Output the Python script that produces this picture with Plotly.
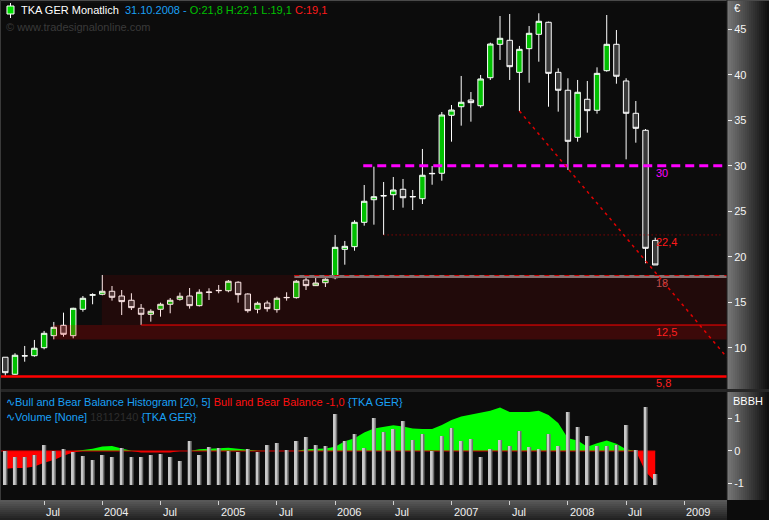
import plotly.graph_objects as go

W, H = 769, 520

# ---------------- data ----------------
MONTHS = [f"{2003 + (k + 2) // 12}-{(k + 2) % 12 + 1:02d}" for k in range(68)]  # 2003-03 .. 2008-10

OPEN = [8.96, 7.09, 9.10, 9.13, 10.01, 11.33, 12.47, 11.33, 14.23, 15.78,
        15.88, 16.21, 15.69, 15.22, 14.34, 13.68, 14.23, 14.78, 15.33, 15.69,
        14.63, 16.08, 16.27, 16.27, 17.20, 15.91, 14.23, 14.92, 14.19, 15.50,
        15.51, 17.45, 16.83, 17.15, 17.70, 20.82, 21.11, 23.79, 26.27, 26.68,
        26.82, 27.42, 26.58, 26.38, 29.12, 29.18, 35.55, 36.49, 37.23, 36.60,
        39.68, 43.35, 43.79, 40.27, 42.87, 44.45, 45.77, 40.27, 38.30, 33.13,
        37.31, 36.10, 40.45, 43.35, 39.32, 35.77, 33.90, 21.8]
HIGH = [8.96, 9.40, 10.20, 10.86, 11.85, 12.84, 13.86, 14.40, 15.69, 15.99,
        18.00, 16.79, 16.35, 15.99, 14.81, 14.23, 14.96, 15.47, 16.06, 16.57,
        16.43, 16.54, 16.90, 17.45, 17.31, 15.99, 15.07, 15.18, 15.62, 16.10,
        17.45, 17.81, 17.75, 17.64, 22.40, 21.74, 24.01, 27.89, 29.90, 28.22,
        28.77, 28.55, 27.34, 31.85, 29.98, 35.91, 36.68, 39.87, 38.11, 39.98,
        43.53, 46.46, 46.68, 43.17, 45.36, 46.76, 45.84, 40.71, 39.62, 39.43,
        39.32, 40.82, 46.57, 44.92, 39.62, 37.12, 34.04, 22.1]
LOW = [6.90, 7.01, 8.47, 9.02, 9.83, 10.93, 11.22, 11.04, 13.97, 14.78,
       15.77, 15.18, 13.60, 14.15, 12.51, 12.87, 13.42, 13.79, 15.18, 14.30,
       14.54, 15.25, 15.99, 16.10, 14.96, 13.86, 13.79, 13.97, 13.86, 15.18,
       15.40, 16.35, 16.79, 16.68, 17.53, 19.13, 20.67, 23.42, 23.53, 22.40,
       25.14, 25.40, 25.14, 25.80, 27.92, 28.36, 32.65, 34.41, 34.85, 36.39,
       39.43, 41.63, 39.43, 36.02, 39.13, 41.44, 36.49, 35.95, 29.54, 32.65,
       33.64, 35.73, 40.34, 39.02, 30.71, 32.54, 19.29, 19.1]
CLOSE = [7.26, 9.18, 9.12, 9.95, 11.59, 12.25, 11.48, 14.34, 15.44, 15.82,
         16.21, 15.55, 15.07, 14.41, 13.68, 14.01, 14.78, 15.22, 15.66, 14.63,
         16.10, 16.12, 16.30, 17.31, 15.84, 14.08, 14.89, 14.30, 15.44, 15.53,
         17.31, 16.83, 17.12, 17.53, 21.04, 21.15, 23.79, 26.10, 26.60, 26.72,
         27.34, 26.49, 26.62, 28.96, 29.16, 35.58, 36.13, 36.98, 36.94, 39.54,
         43.38, 44.01, 40.89, 42.80, 44.56, 45.88, 40.16, 38.30, 32.69, 38.08,
         36.06, 40.16, 43.35, 39.84, 35.77, 34.12, 20.93, 19.1]

# volume in millions of shares
VOLUME_M = [56.0, 46.1, 46.1, 49.4, 65.8, 56.0, 59.3, 54.3, 47.7, 41.2,
            49.4, 46.1, 60.9, 46.1, 46.1, 49.4, 51.0, 46.1, 39.5, 72.4,
            49.4, 62.5, 60.9, 56.0, 54.3, 59.3, 54.3, 65.8, 69.1, 57.6,
            72.4, 79.0, 65.8, 64.2, 116.9, 72.4, 83.9, 60.9, 110.3, 87.2,
            92.2, 105.3, 74.1, 83.9, 56.0, 80.7, 93.8, 72.4, 75.7, 46.1,
            59.3, 74.1, 64.2, 88.9, 62.5, 59.3, 83.9, 64.2, 120.2, 95.5,
            80.7, 64.2, 64.2, 65.8, 98.8, 57.6, 128.4, 18.11214]

# Bull and Bear Balance histogram
BBB = [-0.55, -0.52, -0.52, -0.48, -0.36, -0.28, -0.15, -0.05, 0.03, 0.07,
       0.14, 0.15, 0.08, 0.01, -0.05, -0.05, -0.05, -0.05, 0.0, 0.0,
       0.05, 0.07, 0.07, 0.10, 0.07, 0.03, 0.01, 0.0, 0.0, 0.0,
       0.0, 0.05, 0.07, 0.08, 0.13, 0.30, 0.39, 0.57, 0.69, 0.73,
       0.79, 0.75, 0.69, 0.68, 0.68, 0.80, 0.95, 1.06, 1.12, 1.16,
       1.24, 1.34, 1.20, 1.20, 1.20, 1.24, 1.11, 0.86, 0.39, 0.32,
       0.13, 0.24, 0.32, 0.22, 0.05, 0.0, -0.64, -0.95]

PRICE_TICKS = [10, 15, 20, 25, 30, 35, 40, 45]
BBB_TICKS = [-1, 0, 1]
BBB_TICKTEXT = ["-1", "0", "1"]

X_TICK_MONTHS = ["2003-07", "2004-01", "2004-07", "2005-01", "2005-07", "2006-01",
                 "2006-07", "2007-01", "2007-07", "2008-01", "2008-07", "2009-01"]
X_TICK_TEXT = ["Jul", "2004", "Jul", "2005", "Jul", "2006", "Jul", "2007", "Jul", "2008", "Jul", "2009"]

# horizontal reference levels drawn on the price chart
LEVEL_MAGENTA = 30.0
LEVEL_DOTTED = 22.4
LEVEL_GREY = 17.9
LEVEL_125 = 12.5
LEVEL_BOTTOM = 6.85
LEVEL_LABELS = [("30", 30.0, "#ff00ff"), ("22,4", 22.4, "#ff1a1a"), ("18", 17.9, "#c04a4a"),
                ("12,5", 12.5, "#ff2020"), ("5,8", 6.85, "#ff2020")]
ZONE_UPPER = (18.0, 12.5)
ZONE_LOWER = (12.5, 10.9)

# trend line anchors (month index, price)
TREND_X = [53, 67]
TREND_Y = [36.02, 18.3]

# ---------------- geometry ----------------
def mindex(m):
    y, mo = m.split("-")
    return (int(y) - 2003) * 12 + int(mo) - 3

def px(x):
    return x / W

def py(y):
    return 1 - y / H

idx = list(range(len(MONTHS)))
XMIN, XMAX = -0.546, 74.4
DX = 727 / W
MAIN_DOM = [py(389), py(3)]
LOW_DOM = [py(500), py(392)]
PRICE_RANGE = [5.47, 47.89]
BBB_RANGE = [-1.508, 1.815]
VOL_RANGE = [-24.7, 153.1]

fig = go.Figure()

# histogram (lower panel)
pos = [max(v, 0) for v in BBB]
neg = [min(v, 0) for v in BBB]
fig.add_trace(go.Scatter(x=idx, y=pos, mode="lines", fill="tozeroy", fillcolor="#00ff00",
                         line=dict(width=0, color="#00ff00"), xaxis="x2", yaxis="y2",
                         hoverinfo="skip", showlegend=False))
fig.add_trace(go.Scatter(x=idx, y=neg, mode="lines", fill="tozeroy", fillcolor="#ff0000",
                         line=dict(width=0, color="#ff0000"), xaxis="x2", yaxis="y2",
                         hoverinfo="skip", showlegend=False))
fig.add_trace(go.Scatter(x=[XMIN, idx[-1]], y=[0, 0], mode="lines",
                         line=dict(width=1, color="#e00000"), xaxis="x2", yaxis="y2",
                         hoverinfo="skip", showlegend=False))

# volume bars (two-tone for shading)
fig.add_trace(go.Bar(x=idx, y=VOLUME_M, width=0.44, offset=-0.22, marker=dict(color="#707070", line=dict(width=0)),
                     xaxis="x2", yaxis="y3", hoverinfo="skip", showlegend=False))
fig.add_trace(go.Bar(x=idx, y=VOLUME_M, width=0.2, offset=-0.14, marker=dict(color="#c8c8c8", line=dict(width=0)),
                     xaxis="x2", yaxis="y3", hoverinfo="skip", showlegend=False))

# price levels (lines)
fig.add_trace(go.Scatter(x=[29.8, XMAX], y=[LEVEL_GREY - 0.08, LEVEL_GREY - 0.08], mode="lines",
                         line=dict(width=3, color="#7c7c7c"), hoverinfo="skip", showlegend=False))
fig.add_trace(go.Scatter(x=[29.8, XMAX], y=[LEVEL_GREY + 0.04, LEVEL_GREY + 0.04], mode="lines",
                         line=dict(width=1, color="#d00000", dash="5px,5px"), hoverinfo="skip", showlegend=False))
fig.add_trace(go.Scatter(x=[36.9, XMAX], y=[LEVEL_MAGENTA, LEVEL_MAGENTA], mode="lines",
                         line=dict(width=3, color="#ff00ff", dash="9px,5px"), hoverinfo="skip", showlegend=False))
fig.add_trace(go.Scatter(x=[39, 73.7], y=[LEVEL_DOTTED, LEVEL_DOTTED], mode="lines",
                         line=dict(width=1, color="#c00000", dash="1px,3px"), hoverinfo="skip", showlegend=False))
fig.add_trace(go.Scatter(x=[14, XMAX], y=[LEVEL_125, LEVEL_125], mode="lines",
                         line=dict(width=1, color="#ff0000"), hoverinfo="skip", showlegend=False))
fig.add_trace(go.Scatter(x=[XMIN, XMAX], y=[LEVEL_BOTTOM, LEVEL_BOTTOM], mode="lines",
                         line=dict(width=2.5, color="#ff0000"), hoverinfo="skip", showlegend=False))

# candles
fig.add_trace(go.Candlestick(
    x=idx, open=OPEN, high=HIGH, low=LOW, close=CLOSE,
    increasing=dict(fillcolor="#00c000", line=dict(color="#ffffff", width=1)),
    decreasing=dict(fillcolor="#3a3a3a", line=dict(color="#ffffff", width=1)),
    whiskerwidth=0, xaxis="x", yaxis="y", hoverinfo="skip", showlegend=False))

# trend line
slope = (TREND_Y[1] - TREND_Y[0]) / (TREND_X[1] - TREND_X[0])
fig.add_trace(go.Scatter(x=[TREND_X[0], XMAX], y=[TREND_Y[0], TREND_Y[0] + slope * (XMAX - TREND_X[0])],
                         mode="lines", line=dict(width=1.5, color="#e00000", dash="3px,4px"),
                         hoverinfo="skip", showlegend=False))

shapes = []
# zones (drawn above candles, translucent)
shapes.append(dict(type="rect", xref="x", yref="y", x0=9.95, x1=XMAX, y0=ZONE_UPPER[1], y1=ZONE_UPPER[0],
                   fillcolor="rgba(255,0,0,0.09)", line=dict(width=0), layer="above"))
shapes.append(dict(type="rect", xref="x", yref="y", x0=4.92, x1=XMAX, y0=ZONE_LOWER[1], y1=ZONE_LOWER[0],
                   fillcolor="rgba(255,0,0,0.2)", line=dict(width=0), layer="above"))

# axis strips with gradients
def hgrad(x0, x1, y0, y1, c0, c1, n):
    for k in range(n):
        t = k / (n - 1)
        c = tuple(int(c0[j] + (c1[j] - c0[j]) * t) for j in range(3))
        xa = x0 + (x1 - x0) * k / n
        xb = x0 + (x1 - x0) * (k + 1) / n
        shapes.append(dict(type="rect", xref="paper", yref="paper", x0=px(xa), x1=px(xb) + 0.0005,
                           y0=py(y1), y1=py(y0), fillcolor="rgb(%d,%d,%d)" % c, line=dict(width=0), layer="below"))

def vgrad(x0, x1, y0, y1, c0, c1, n):
    for k in range(n):
        t = k / (n - 1)
        c = tuple(int(c0[j] + (c1[j] - c0[j]) * t) for j in range(3))
        ya = y0 + (y1 - y0) * k / n
        yb = y0 + (y1 - y0) * (k + 1) / n
        shapes.append(dict(type="rect", xref="paper", yref="paper", x0=px(x0), x1=px(x1),
                           y0=py(yb) - 0.0005, y1=py(ya), fillcolor="rgb(%d,%d,%d)" % c, line=dict(width=0), layer="below"))

hgrad(727, 769, 0, 389, (118, 118, 118), (14, 14, 14), 21)
hgrad(727, 769, 392, 500, (118, 118, 118), (14, 14, 14), 21)
vgrad(0, 727, 500, 520, (88, 88, 88), (34, 34, 34), 10)
shapes.append(dict(type="rect", xref="paper", yref="paper", x0=px(727), x1=1, y0=0, y1=py(500),
                   fillcolor="#0c0c0c", line=dict(width=0), layer="below"))
# frame lines
shapes.append(dict(type="line", xref="paper", yref="paper", x0=0, x1=1, y0=py(0.5), y1=py(0.5),
                   line=dict(color="#4a4a4a", width=1)))
shapes.append(dict(type="line", xref="paper", yref="paper", x0=px(0.5), x1=px(0.5), y0=py(500), y1=1,
                   line=dict(color="#3a3a3a", width=1)))
shapes.append(dict(type="rect", xref="paper", yref="paper", x0=0, x1=1, y0=py(392), y1=py(389),
                   fillcolor="#262626", line=dict(width=0), layer="below"))
shapes.append(dict(type="line", xref="paper", yref="paper", x0=px(727), x1=px(727), y0=py(500), y1=1,
                   line=dict(color="#202020", width=1)))

# header icon
shapes.append(dict(type="line", xref="paper", yref="paper", x0=px(10.5), x1=px(10.5), y0=py(3), y1=py(18),
                   line=dict(color="#ffffff", width=1)))
shapes.append(dict(type="rect", xref="paper", yref="paper", x0=px(7), x1=px(14), y0=py(14), y1=py(6),
                   fillcolor="#00e000", line=dict(color="#ffffff", width=1)))

annotations = []
FONT = "Liberation Sans, Arial, sans-serif"
CYAN = "#1aa0f5"
annotations.append(dict(xref="paper", yref="paper", x=px(19), y=py(10), xanchor="left", yanchor="middle",
                        showarrow=False, font=dict(family=FONT, size=11, color="#ffffff"),
                        text=("TKA GER Monatlich  <span style='color:%s'>31.10.2008 - </span>"
                              "<span style='color:#00c000'>O:21,8 H:22,1 L:19,1 </span>"
                              "<span style='color:#ff1a1a'>C:19,1</span>") % CYAN))
annotations.append(dict(xref="paper", yref="paper", x=px(4), y=py(27), xanchor="left", yanchor="middle",
                        showarrow=False, font=dict(family=FONT, size=11, color="#3a3a3a"),
                        text="© www.tradesignalonline.com"))
annotations.append(dict(xref="paper", yref="paper", x=px(4), y=py(401.5), xanchor="left", yanchor="middle",
                        showarrow=False, font=dict(family=FONT, size=11, color=CYAN),
                        text=("∿Bull and Bear Balance Histogram [20, 5] "
                              "<span style='color:#ff1010'>Bull and Bear Balance -1,0</span> {TKA GER}")))
annotations.append(dict(xref="paper", yref="paper", x=px(4), y=py(417), xanchor="left", yanchor="middle",
                        showarrow=False, font=dict(family=FONT, size=11, color=CYAN),
                        text="∿Volume [None] <span style='color:#2c2c2c'>18112140</span> {TKA GER}"))
annotations.append(dict(xref="paper", yref="paper", x=px(732), y=py(8), xanchor="left", yanchor="middle",
                        showarrow=False, font=dict(family=FONT, size=11, color="#ffffff"), text="€"))
annotations.append(dict(xref="paper", yref="paper", x=px(731), y=py(401), xanchor="left", yanchor="middle",
                        showarrow=False, font=dict(family=FONT, size=11, color="#ffffff"), text="BBBH"))
for txt, lvl, col in LEVEL_LABELS:
    annotations.append(dict(xref="x", yref="y", x=idx[-1], y=lvl, xanchor="left", yanchor="middle",
                            xshift=-1, yshift=-7, showarrow=False,
                            font=dict(family=FONT, size=11, color=col), text=txt))
for m, t in zip(X_TICK_MONTHS, X_TICK_TEXT):
    annotations.append(dict(xref="x2", yref="paper", x=mindex(m), y=py(512), xanchor="left", yanchor="middle",
                            xshift=0, showarrow=False, font=dict(family=FONT, size=11, color="#f0f0f0"), text=t))

axis_common = dict(showgrid=False, zeroline=False, showline=False)
fig.update_layout(
    width=W, height=H, margin=dict(l=0, r=0, t=0, b=0),
    paper_bgcolor="#111111", plot_bgcolor="#0c0c0c", showlegend=False,
    boxgap=0.25, boxgroupgap=0.25, barmode="overlay",
    xaxis=dict(domain=[0, DX], range=[XMIN, XMAX], anchor="y", showticklabels=False, ticks="",
               rangeslider=dict(visible=False), **axis_common),
    yaxis=dict(domain=MAIN_DOM, range=PRICE_RANGE, anchor="x", side="right", tickvals=PRICE_TICKS,
               ticks="outside", ticklen=4, tickcolor="#eeeeee",
               tickfont=dict(family=FONT, size=11, color="#f4f4f4"), **axis_common),
    xaxis2=dict(domain=[0, DX], range=[XMIN, XMAX], anchor="y2", tickvals=[mindex(m) for m in X_TICK_MONTHS],
                ticks="outside", ticklen=4, tickcolor="#d0d0d0", showticklabels=False, **axis_common),
    yaxis2=dict(domain=LOW_DOM, range=BBB_RANGE, anchor="x2", side="right", tickvals=BBB_TICKS,
                ticktext=BBB_TICKTEXT, ticks="outside", ticklen=4, tickcolor="#eeeeee",
                tickfont=dict(family=FONT, size=11, color="#f4f4f4"), **axis_common),
    yaxis3=dict(domain=LOW_DOM, range=VOL_RANGE, anchor="x2", overlaying="y2", visible=False, **axis_common),
    shapes=shapes, annotations=annotations,
)

fig.write_html("out.html", config={"displayModeBar": False},
               post_script="document.body.style.margin='0';document.body.style.overflow='hidden';")
